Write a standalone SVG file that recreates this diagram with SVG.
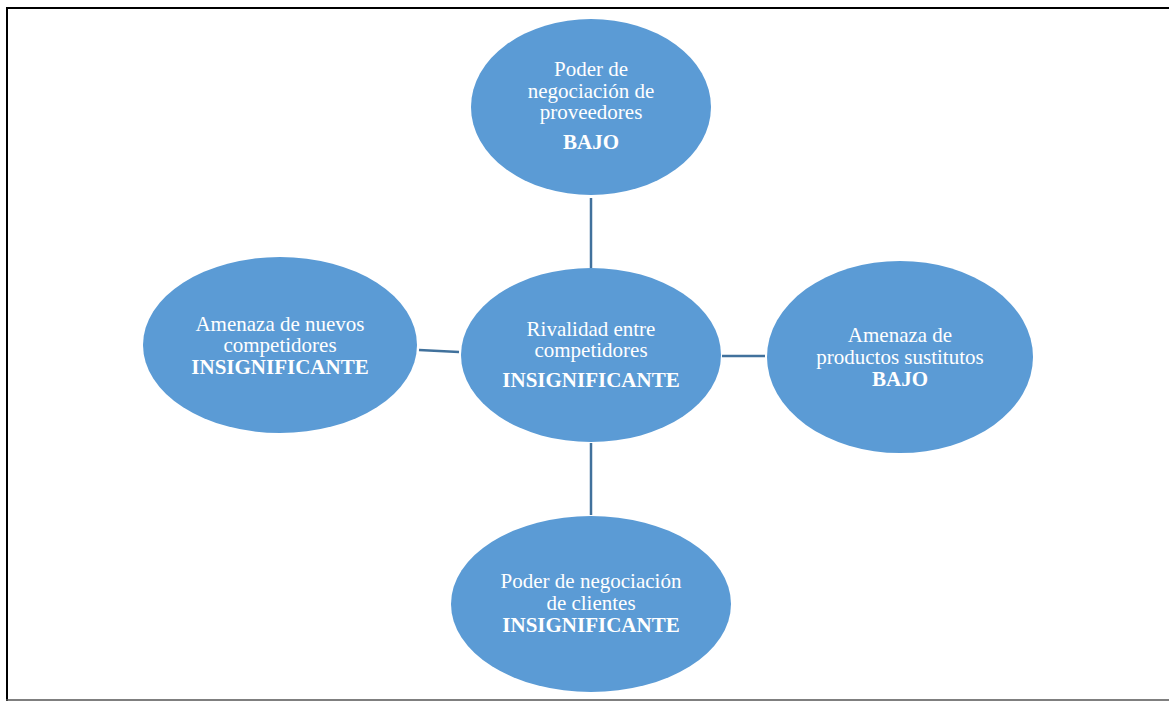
<svg xmlns="http://www.w3.org/2000/svg" width="1169" height="701" viewBox="0 0 1169 701">
<style>
.node{fill:#5B9BD5;}
.t{font-family:"Liberation Serif","Times New Roman",serif;font-size:21px;fill:#ffffff;text-anchor:middle;}
.b{font-weight:bold;}
.conn{stroke:#41719C;stroke-width:2.5;fill:none;}
</style>
<rect width="1169" height="701" fill="#ffffff"/>
<g id="frame">
<line x1="6" y1="8" x2="1169" y2="8" stroke="#000" stroke-width="2"/>
<line x1="7" y1="7" x2="7" y2="701" stroke="#000" stroke-width="2"/>
<line x1="6" y1="700" x2="1169" y2="700" stroke="#555" stroke-width="1.5"/>
</g>
<g id="connectors">
<line class="conn" x1="591" y1="198" x2="591" y2="268"/>
<line class="conn" x1="419" y1="350" x2="459" y2="352"/>
<line class="conn" x1="722" y1="356" x2="765" y2="356"/>
<line class="conn" x1="591" y1="443" x2="591" y2="515"/>
</g>
<g id="proveedores">
<ellipse class="node" cx="591" cy="107" rx="120" ry="88"/>
<text class="t" x="591" y="76">Poder de</text>
<text class="t" x="591" y="98">negociación de</text>
<text class="t" x="591" y="119">proveedores</text>
<text class="t b" x="591" y="149">BAJO</text>
</g>
<g id="rivalidad">
<ellipse class="node" cx="591" cy="355" rx="130" ry="87"/>
<text class="t" x="591" y="336">Rivalidad entre</text>
<text class="t" x="591" y="357">competidores</text>
<text class="t b" x="591" y="387">INSIGNIFICANTE</text>
</g>
<g id="nuevos">
<ellipse class="node" cx="280" cy="345" rx="137" ry="88"/>
<text class="t" x="280" y="331">Amenaza de nuevos</text>
<text class="t" x="280" y="352">competidores</text>
<text class="t b" x="280" y="374">INSIGNIFICANTE</text>
</g>
<g id="sustitutos">
<ellipse class="node" cx="900" cy="357" rx="133" ry="96"/>
<text class="t" x="900" y="342">Amenaza de</text>
<text class="t" x="900" y="364">productos sustitutos</text>
<text class="t b" x="900" y="386">BAJO</text>
</g>
<g id="clientes">
<ellipse class="node" cx="591" cy="604" rx="140" ry="88"/>
<text class="t" x="591" y="588">Poder de negociación</text>
<text class="t" x="591" y="610">de clientes</text>
<text class="t b" x="591" y="632">INSIGNIFICANTE</text>
</g>
</svg>
